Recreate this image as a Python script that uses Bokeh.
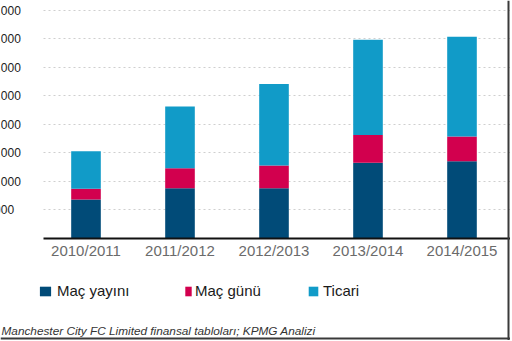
from bokeh.plotting import figure
from bokeh.models import (Range1d, FixedTicker, ColumnDataSource, Label, Span,
                          Legend, LegendItem)
from bokeh.embed import file_html
from bokeh.resources import INLINE
from bokeh.core.properties import value

# ---- data (values in £m, i.e. thousands of £000) ----
seasons = ["2010/2011", "2011/2012", "2012/2013", "2013/2014", "2014/2015"]
broadcast = [68.3, 88.1, 88.1, 132.5, 135.4]    # Maç yayını
matchday = [18.7, 35.0, 39.7, 49.0, 43.2]       # Maç günü
commercial = [65.8, 108.0, 143.0, 166.9, 175.0]  # Ticari
series = ["Maç yayını", "Maç günü", "Ticari"]
y_ticks = [50, 100, 150, 200, 250, 300, 350, 400]
y_labels = ["50.000", "100.000", "150.000", "200.000", "250.000", "300.000", "350.000", "400.000"]
source_note = "Manchester City FC Limited finansal tabloları; KPMG Analizi"

colors = ["#014b78", "#d2004e", "#119bc8"]
FONT = "Liberation Sans"

# ---- layout (pixels) ----
W, H = 510, 340
base_px = 238.0          # baseline (value 0)
px_per_unit = 28.54 / 50.0
pitch = 94.0             # distance between bar centres
first_center = 85.5
grid_left_px = 43.0
border_right_px = 508.0
border_bottom_px = 338.0


def xd(px):
    return (px - first_center) / pitch


def yd(py):
    return (base_px - py) / px_per_unit


p = figure(width=W, height=H, x_range=Range1d(xd(0), xd(W)), y_range=Range1d(yd(H), yd(0)),
           output_backend="svg", toolbar_location=None, min_border=0,
           y_axis_location=None, outline_line_color=None)
p.background_fill_color = "white"
p.border_fill_color = "white"

src = ColumnDataSource(dict(x=list(range(len(seasons))), b=broadcast, m=matchday, c=commercial))
rs = p.vbar_stack(["b", "m", "c"], x="x", width=0.315, source=src, color=colors,
                  line_color=None)

# x axis sitting at value 0
p.xaxis.fixed_location = 0
p.xaxis.bounds = (xd(grid_left_px), xd(W))
p.xaxis.ticker = FixedTicker(ticks=list(range(len(seasons))))
p.xaxis.major_label_overrides = {i: s for i, s in enumerate(seasons)}
p.xaxis.axis_line_color = "#111111"
p.xaxis.axis_line_width = 2
p.xaxis.major_tick_line_color = None
p.xaxis.minor_tick_line_color = None
p.xaxis.major_tick_out = 0
p.xaxis.major_tick_in = 0
p.xaxis.major_label_text_color = "#6b6b6b"
p.xaxis.major_label_text_font = FONT
p.xaxis.major_label_text_font_size = "15px"
p.xaxis.major_label_standoff = 3
p.xgrid.visible = False

# horizontal dotted grid
p.ygrid.ticker = FixedTicker(ticks=y_ticks)
p.ygrid.cross_bounds = (xd(grid_left_px), xd(W))
p.ygrid.grid_line_color = "#cfcfcf"
p.ygrid.grid_line_dash = "2 3"
p.ygrid.grid_line_width = 1

# y tick labels (cut by the left edge, as in the source image)
lab_src = ColumnDataSource(dict(x=[xd(-23)] * len(y_ticks), y=y_ticks, t=y_labels))
p.text(x="x", y="y", text="t", source=lab_src, text_font=value(FONT),
       text_font_size="12px", text_color="#222222", text_align="left",
       text_baseline="middle")

# legends
specs = [(0, 38, 14, 5), (1, 184, 8, 3), (2, 307, 12, 4)]
for i, xpx, gw, so in specs:
    lg = Legend(items=[LegendItem(label=series[i], renderers=[rs[i]])],
                location=(xpx, H - 299), orientation="horizontal",
                glyph_width=gw, glyph_height=12, label_standoff=so,
                label_text_font=FONT, label_text_font_size="15px",
                label_text_color="#1a1a1a", padding=0, margin=0, spacing=0,
                border_line_color=None, background_fill_alpha=0,
                label_height=12)
    p.add_layout(lg, "center")

# source note
p.add_layout(Label(x=xd(1), y=yd(330.5), text=source_note,
                   text_font=FONT, text_font_size="11.8px", text_font_style="italic",
                   text_color="#333333", text_align="left", text_baseline="alphabetic"))

# image frame (right and bottom edges)
p.add_layout(Span(location=xd(border_right_px), dimension="height",
                  line_color="#3a3a3a", line_width=2))
p.add_layout(Span(location=yd(border_bottom_px), dimension="width",
                  line_color="#3a3a3a", line_width=2))

open("out.html", "w").write(file_html(p, INLINE))
